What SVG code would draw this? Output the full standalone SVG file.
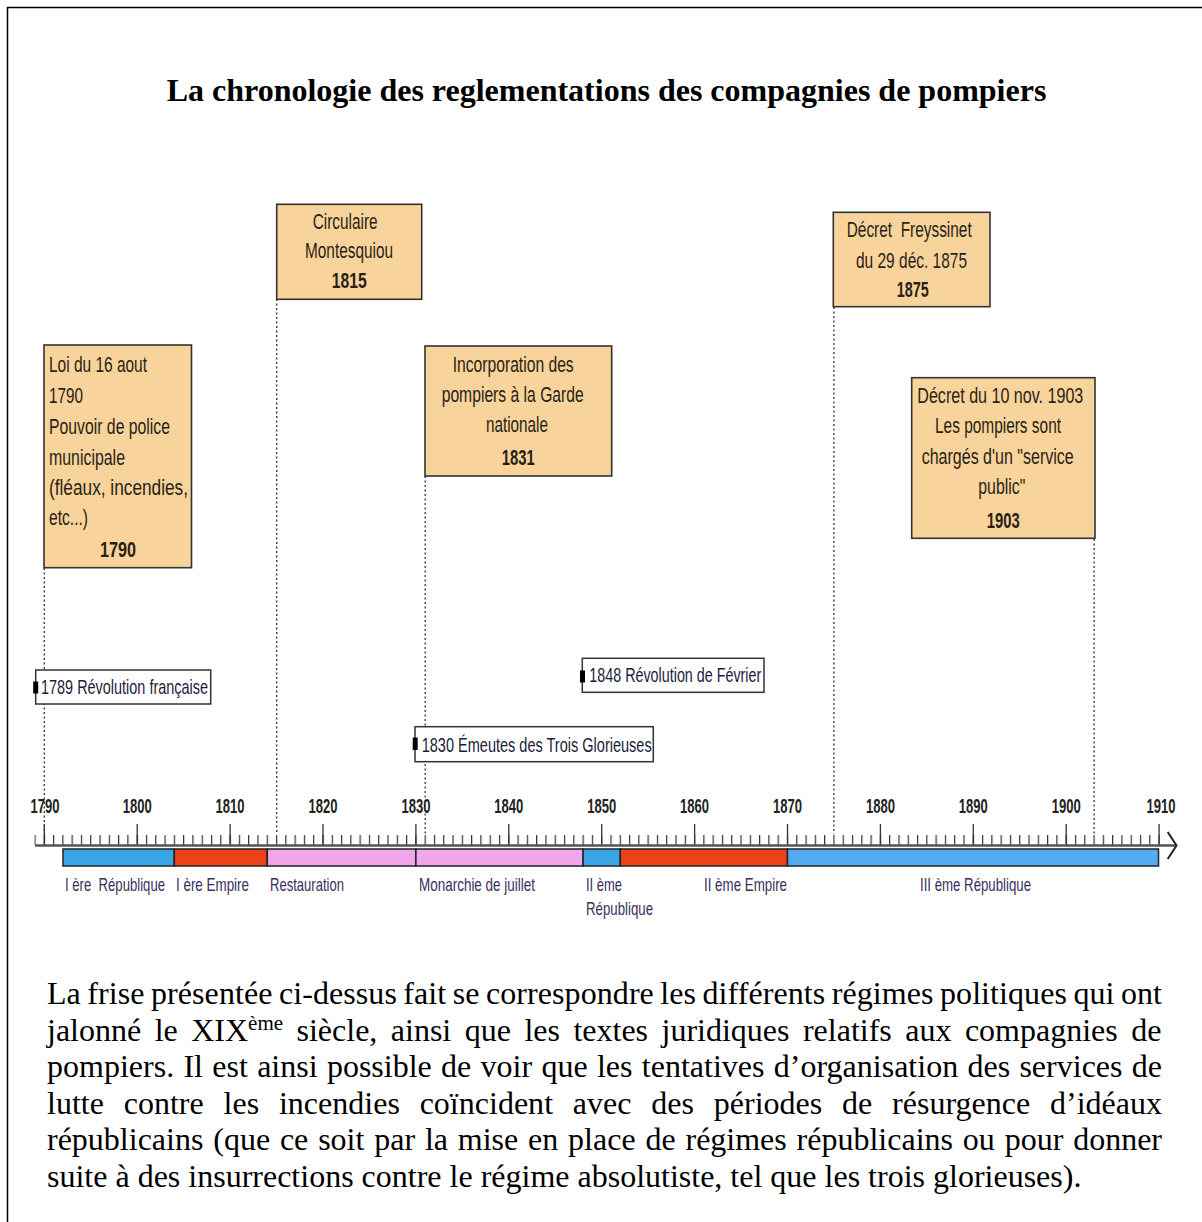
<svg xmlns="http://www.w3.org/2000/svg" width="1202" height="1222" viewBox="0 0 1202 1222">
<style>
.frame{fill:none;stroke:#000;stroke-width:1.5}
.title{font-family:"Liberation Serif","Times New Roman",serif;font-size:32px;font-weight:bold;fill:#000}
.para{font-family:"Liberation Serif","Times New Roman",serif;font-size:32px;fill:#000}
.box{fill:#F8D49C;stroke:#333;stroke-width:1.6}
.ev{fill:#fff;stroke:#333;stroke-width:1.5}
.mk{fill:#000}
.sans{font-family:"Liberation Sans",Arial,sans-serif}
.bt{font-size:22px;fill:#2a1f14}
.b{font-weight:bold}
.et{font-size:21px;fill:#1c1c3a}
.yl{font-size:20px;font-weight:bold;fill:#222}
.pl{font-size:18.5px;fill:#3a2f5c}
.dot{fill:none;stroke:#333;stroke-width:1.3;stroke-dasharray:2 2.5}
.seg{stroke:#222;stroke-width:1.5}
.blue{fill:#38A6E6}
.red{fill:#EE4019}
.pink{fill:#F0A6EA}
.blue3{fill:#55ABEF}
</style>
<defs>
<pattern id="ticks" patternUnits="userSpaceOnUse" x="34.41" y="835" width="9.29" height="10">
<rect x="0" y="0" width="1.2" height="10" fill="#333"/>
</pattern>
</defs>

<path class="frame" d="M7.5,1222 V7.5 H1202"/>

<text class="title" x="606.5" y="101" text-anchor="middle">La chronologie des reglementations des compagnies de pompiers</text>

<g id="connectors">
<line class="dot" x1="44.3" y1="568" x2="44.3" y2="834"/>
<line class="dot" x1="276.7" y1="299" x2="276.7" y2="834"/>
<line class="dot" x1="425.2" y1="476" x2="425.2" y2="834"/>
<line class="dot" x1="833.9" y1="307" x2="833.9" y2="834"/>
<line class="dot" x1="1094.1" y1="539" x2="1094.1" y2="834"/>
</g>

<g id="axis">
<rect x="34.4" y="835" width="1126" height="10" fill="url(#ticks)"/>
<path d="M44.3,824V845M137.2,824V845M230.1,824V845M323,824V845M415.9,824V845M508.8,824V845M601.7,824V845M694.6,824V845M787.5,824V845M880.4,824V845M973.3,824V845M1066.2,824V845M1159.1,824V845" stroke="#333" stroke-width="1.3"/>
<line x1="35" y1="845.5" x2="1176" y2="845.5" stroke="#555" stroke-width="2.5"/>
<polyline points="1167.7,832 1176.5,845.5 1167.7,859" fill="none" stroke="#222" stroke-width="2"/>
<g class="sans yl">
<text x="30.5" y="813" textLength="29" lengthAdjust="spacingAndGlyphs">1790</text>
<text x="122.7" y="813" textLength="29" lengthAdjust="spacingAndGlyphs">1800</text>
<text x="215.6" y="813" textLength="29" lengthAdjust="spacingAndGlyphs">1810</text>
<text x="308.5" y="813" textLength="29" lengthAdjust="spacingAndGlyphs">1820</text>
<text x="401.4" y="813" textLength="29" lengthAdjust="spacingAndGlyphs">1830</text>
<text x="494.3" y="813" textLength="29" lengthAdjust="spacingAndGlyphs">1840</text>
<text x="587.2" y="813" textLength="29" lengthAdjust="spacingAndGlyphs">1850</text>
<text x="680.1" y="813" textLength="29" lengthAdjust="spacingAndGlyphs">1860</text>
<text x="773" y="813" textLength="29" lengthAdjust="spacingAndGlyphs">1870</text>
<text x="865.9" y="813" textLength="29" lengthAdjust="spacingAndGlyphs">1880</text>
<text x="958.8" y="813" textLength="29" lengthAdjust="spacingAndGlyphs">1890</text>
<text x="1051.7" y="813" textLength="29" lengthAdjust="spacingAndGlyphs">1900</text>
<text x="1146.5" y="813" textLength="29" lengthAdjust="spacingAndGlyphs">1910</text>
</g>
</g>

<g id="periods">
<rect class="seg blue" x="63" y="849" width="111.3" height="17"/>
<rect class="seg red" x="174.3" y="849" width="93" height="17"/>
<rect class="seg pink" x="267.3" y="849" width="148.6" height="17"/>
<rect class="seg pink" x="415.9" y="849" width="167.2" height="17"/>
<rect class="seg blue" x="583.1" y="849" width="37.2" height="17"/>
<rect class="seg red" x="620.3" y="849" width="167.2" height="17"/>
<rect class="seg blue3" x="787.5" y="849" width="371" height="17"/>
<g class="sans pl">
<text x="65" y="891" textLength="100" lengthAdjust="spacingAndGlyphs" xml:space="preserve">I ère  République</text>
<text x="176" y="891" textLength="73" lengthAdjust="spacingAndGlyphs">I ère Empire</text>
<text x="270" y="891" textLength="74" lengthAdjust="spacingAndGlyphs">Restauration</text>
<text x="419" y="891" textLength="116" lengthAdjust="spacingAndGlyphs">Monarchie de juillet</text>
<text x="586" y="891" textLength="36" lengthAdjust="spacingAndGlyphs">II ème</text>
<text x="586" y="914.5" textLength="67" lengthAdjust="spacingAndGlyphs">République</text>
<text x="704" y="891" textLength="83" lengthAdjust="spacingAndGlyphs">II ème Empire</text>
<text x="920" y="891" textLength="111" lengthAdjust="spacingAndGlyphs">III ème République</text>
</g>
</g>

<g id="box-1790">
<rect class="box" x="44" y="345" width="147.5" height="222.7"/>
<g class="sans bt">
<text x="49" y="372" textLength="98" lengthAdjust="spacingAndGlyphs">Loi du 16 aout</text>
<text x="49" y="403" textLength="34" lengthAdjust="spacingAndGlyphs">1790</text>
<text x="49" y="434" textLength="121" lengthAdjust="spacingAndGlyphs">Pouvoir de police</text>
<text x="49" y="465" textLength="76" lengthAdjust="spacingAndGlyphs">municipale</text>
<text x="49" y="495" textLength="139" lengthAdjust="spacingAndGlyphs">(fléaux, incendies,</text>
<text x="49" y="525" textLength="39" lengthAdjust="spacingAndGlyphs">etc...)</text>
<text class="b" x="100" y="557" textLength="36" lengthAdjust="spacingAndGlyphs">1790</text>
</g>
</g>

<g id="box-1815">
<rect class="box" x="276.7" y="204.3" width="145" height="95"/>
<g class="sans bt">
<text x="312.7" y="229" textLength="65" lengthAdjust="spacingAndGlyphs">Circulaire</text>
<text x="305" y="258.3" textLength="88" lengthAdjust="spacingAndGlyphs">Montesquiou</text>
<text class="b" x="331.7" y="288.3" textLength="35" lengthAdjust="spacingAndGlyphs">1815</text>
</g>
</g>

<g id="box-1831">
<rect class="box" x="425" y="346" width="186.7" height="130"/>
<g class="sans bt">
<text x="452.7" y="371.7" textLength="121" lengthAdjust="spacingAndGlyphs">Incorporation des</text>
<text x="441.7" y="402.3" textLength="142" lengthAdjust="spacingAndGlyphs">pompiers à la Garde</text>
<text x="486" y="432.3" textLength="62" lengthAdjust="spacingAndGlyphs">nationale</text>
<text class="b" x="501.7" y="465" textLength="33" lengthAdjust="spacingAndGlyphs">1831</text>
</g>
</g>

<g id="box-1875">
<rect class="box" x="833.3" y="212.3" width="156.7" height="94.4"/>
<g class="sans bt">
<text x="846.7" y="237.3" textLength="125" lengthAdjust="spacingAndGlyphs" xml:space="preserve">Décret  Freyssinet</text>
<text x="856" y="267.7" textLength="111" lengthAdjust="spacingAndGlyphs">du 29 déc. 1875</text>
<text class="b" x="896.7" y="296.7" textLength="32" lengthAdjust="spacingAndGlyphs">1875</text>
</g>
</g>

<g id="box-1903">
<rect class="box" x="911.7" y="377.7" width="183.3" height="160.6"/>
<g class="sans bt">
<text x="917.3" y="403.3" textLength="166" lengthAdjust="spacingAndGlyphs">Décret du 10 nov. 1903</text>
<text x="935" y="433.3" textLength="126" lengthAdjust="spacingAndGlyphs">Les pompiers sont</text>
<text x="921.7" y="464.3" textLength="152" lengthAdjust="spacingAndGlyphs">chargés d'un "service</text>
<text x="978.3" y="494.3" textLength="47" lengthAdjust="spacingAndGlyphs">public"</text>
<text class="b" x="986.7" y="528.3" textLength="33" lengthAdjust="spacingAndGlyphs">1903</text>
</g>
</g>

<g id="event-1789">
<rect class="ev" x="35.7" y="670" width="175" height="34"/>
<rect class="mk" x="33.2" y="681.5" width="5" height="12"/>
<text class="sans et" x="41" y="694.3" textLength="167" lengthAdjust="spacingAndGlyphs">1789 Révolution française</text>
</g>

<g id="event-1848">
<rect class="ev" x="582.3" y="658.3" width="181.7" height="34"/>
<rect class="mk" x="580" y="670.5" width="5" height="12"/>
<text class="sans et" x="589.3" y="681.7" textLength="172" lengthAdjust="spacingAndGlyphs">1848 Révolution de Février</text>
</g>

<g id="event-1830">
<rect class="ev" x="415" y="726.7" width="238.3" height="35"/>
<rect class="mk" x="412.7" y="737.5" width="5" height="12.5"/>
<text class="sans et" x="421.7" y="751.7" textLength="230" lengthAdjust="spacingAndGlyphs">1830 Émeutes des Trois Glorieuses</text>
</g>

<g id="paragraph" class="para">
<text x="47" y="1004" word-spacing="-1.66" textLength="1115" lengthAdjust="spacing">La frise présentée ci-dessus fait se correspondre les différents régimes politiques qui ont</text>
<text x="47" y="1040.6" word-spacing="5.46">jalonné le XIX<tspan font-size="21" dy="-11">ème</tspan><tspan dy="11"> siècle, ainsi que les textes juridiques relatifs aux compagnies de</tspan></text>
<text x="47" y="1077.2" word-spacing="1.27" textLength="1115" lengthAdjust="spacing">pompiers. Il est ainsi possible de voir que les tentatives d’organisation des services de</text>
<text x="47" y="1113.8" word-spacing="11.79" textLength="1115" lengthAdjust="spacing">lutte contre les incendies coïncident avec des périodes de résurgence d’idéaux</text>
<text x="47" y="1150.4" word-spacing="1.82" textLength="1115" lengthAdjust="spacing">républicains (que ce soit par la mise en place de régimes républicains ou pour donner</text>
<text x="47" y="1187">suite à des insurrections contre le régime absolutiste, tel que les trois glorieuses).</text>
</g>
</svg>
